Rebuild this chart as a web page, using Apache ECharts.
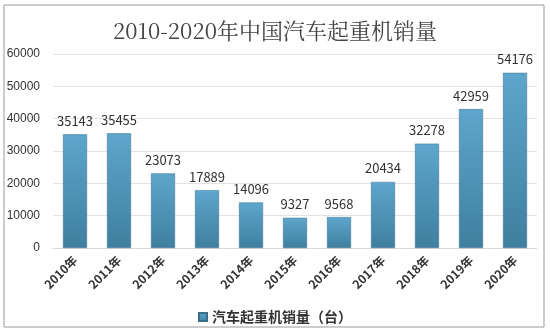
<!DOCTYPE html>
<html><head><meta charset="utf-8">
<script src="https://cdn.jsdelivr.net/npm/echarts@6/dist/echarts.min.js"></script>
<style>html,body{margin:0;padding:0;background:#fff}#c{width:550px;height:335px}</style>
</head><body><div id="c"></div>
<script>
const categories = ['2010年','2011年','2012年','2013年','2014年','2015年','2016年','2017年','2018年','2019年','2020年'];
const sales = [35143,35455,23073,17889,14096,9327,9568,20434,32278,42959,54176];
const seriesName = '汽车起重机销量（台）';
const titleText = '2010-2020年中国汽车起重机销量';

const chart = echarts.init(document.getElementById('c'));
chart.setOption({
  animation:false,
  backgroundColor:'#fff',
  graphic:[{type:'rect',shape:{x:4,y:5,width:540,height:322},style:{fill:'none',stroke:'#9a9a9a',lineWidth:1}}],
  title:{text:titleText,left:'center',top:15,textStyle:{fontFamily:'"Noto Serif CJK SC","DejaVu Serif",serif',fontSize:22,fontWeight:'normal',color:'#444'}},
  legend:{bottom:6,left:'center',itemWidth:8,itemHeight:8,itemGap:4,icon:'rect',textStyle:{fontSize:14,color:'#333',fontWeight:'bold',fontFamily:'"Noto Sans CJK SC"'}},
  grid:{left:53,right:13,top:54,bottom:87},
  xAxis:{type:'category',data:categories,axisTick:{show:false},axisLine:{lineStyle:{color:'#d9d9d9'}},
    axisLabel:{rotate:45,fontSize:12,fontWeight:'bold',color:'#333',interval:0,margin:10,fontFamily:'"Noto Sans CJK SC"'}},
  yAxis:{type:'value',min:0,max:60000,interval:10000,axisLine:{show:false},axisTick:{show:false},
    splitLine:{lineStyle:{color:'#e3e3e3'}},axisLabel:{fontSize:12,color:'#333',margin:13,fontFamily:'Liberation Sans',formatter:v=>String(v)}},
  series:[{name:seriesName,type:'bar',data:sales,barWidth:24,
    itemStyle:{color:new echarts.graphic.LinearGradient(0,0,0,1,[{offset:0,color:'#5ea6cc'},{offset:1,color:'#3f7f9f'}]),borderColor:'#3a6f8c',borderWidth:0.5},
    label:{show:true,position:'top',distance:7,fontSize:13,color:'#333',fontFamily:'"Noto Sans CJK SC"'}}]
});
</script></body></html>
